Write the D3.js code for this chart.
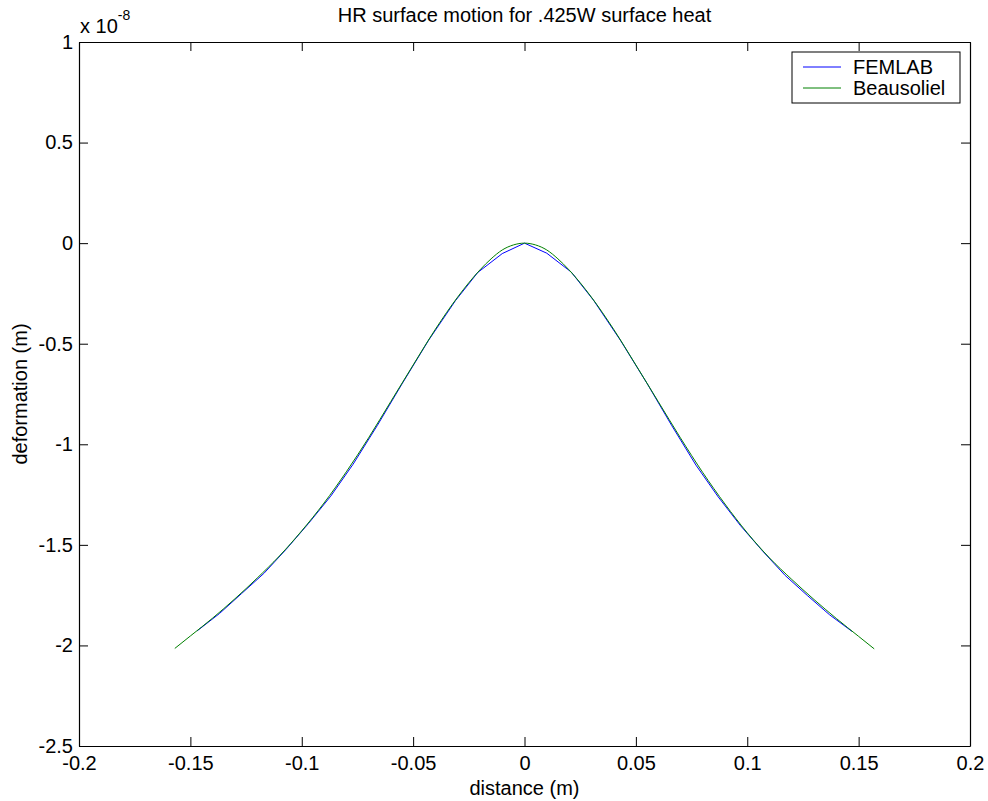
<!DOCTYPE html>
<html>
<head>
<meta charset="utf-8">
<script src="https://cdn.jsdelivr.net/npm/d3@7"></script>
<style>
  body { margin: 0; background: #fff; }
  svg { display: block; font-family: Arial, "Liberation Sans", sans-serif; }
</style>
</head>
<body>
<div id="chart"></div>
<script>
// values (deformation in units of 1e-8 m)
const beauX = [-0.157, -0.15, -0.14, -0.13, -0.12, -0.11, -0.10, -0.09, -0.08, -0.07, -0.06, -0.05, -0.04, -0.03, -0.02, -0.015, -0.01, -0.005, 0,
    0.005, 0.01, 0.015, 0.02, 0.03, 0.04, 0.05, 0.06, 0.07, 0.08, 0.09, 0.10, 0.11, 0.12, 0.13, 0.14, 0.15, 0.157];
const beauY = [-2.015, -1.953, -1.864, -1.768, -1.665, -1.555, -1.43, -1.292, -1.137, -0.968, -0.787, -0.606, -0.428, -0.268, -0.133, -0.078, -0.034, -0.009, 0,
    -0.009, -0.034, -0.078, -0.133, -0.268, -0.428, -0.606, -0.787, -0.968, -1.14, -1.297, -1.44, -1.565, -1.672, -1.772, -1.866, -1.955, -2.017];

const femX = [-0.147, -0.137, -0.127, -0.117, -0.107, -0.097, -0.087, -0.077, -0.066, -0.055, -0.043, -0.031, -0.021, -0.01, 0,
    0.01, 0.021, 0.031, 0.043, 0.055, 0.066, 0.077, 0.087, 0.097, 0.107, 0.117, 0.127, 0.137, 0.147];
const femY = [-1.928, -1.842, -1.742, -1.642, -1.522, -1.394, -1.258, -1.100, -0.905, -0.700, -0.482, -0.286, -0.146, -0.052, 0,
    -0.05, -0.144, -0.284, -0.482, -0.697, -0.905, -1.104, -1.262, -1.405, -1.532, -1.652, -1.752, -1.848, -1.93];

const xTicks = [-0.2, -0.15, -0.1, -0.05, 0, 0.05, 0.1, 0.15, 0.2];
const yTicks = [1, 0.5, 0, -0.5, -1, -1.5, -2, -2.5];
const seriesNames = ["FEMLAB", "Beausoliel"];
const seriesColors = ["#0000ff", "#008000"];

const width = 988, height = 801;
const margin = {top: 42, right: 18, bottom: 55, left: 79};
const innerW = width - margin.left - margin.right,
    innerH = height - margin.top - margin.bottom;
const fontSize = 20;

const svg = d3.select("#chart")
    .append("svg")
    .attr("width", width)
    .attr("height", height);

const g = svg.append("g")
    .attr("transform", "translate(" + margin.left + "," + margin.top + ")");

const x = d3.scaleLinear().domain([-0.2, 0.2]).range([0, innerW]);
const y = d3.scaleLinear().domain([-2.5, 1]).range([innerH, 0]);

const fmt = d => String(+d.toFixed(2));
const tickLen = 9;

// axes, ticks pointing inward like MATLAB
const xAxis = g.append("g")
    .attr("transform", "translate(0," + innerH + ")")
    .call(d3.axisBottom(x).tickValues(xTicks).tickFormat(fmt).tickSizeInner(-tickLen).tickSizeOuter(0).tickPadding(10));
const xTop = g.append("g")
    .call(d3.axisTop(x).tickValues(xTicks).tickFormat("").tickSizeInner(-tickLen).tickSizeOuter(0));
const yAxis = g.append("g")
    .call(d3.axisLeft(y).tickValues(yTicks).tickFormat(fmt).tickSizeInner(-tickLen).tickSizeOuter(0).tickPadding(6));
const yRight = g.append("g")
    .attr("transform", "translate(" + innerW + ",0)")
    .call(d3.axisRight(y).tickValues(yTicks).tickFormat("").tickSizeInner(-tickLen).tickSizeOuter(0));

[xAxis, xTop, yAxis, yRight].forEach(function(a) {
    a.selectAll("path.domain").attr("stroke", "#000").attr("stroke-width", 1.2);
    a.selectAll(".tick line").attr("stroke", "#000");
    a.selectAll("text").attr("font-size", fontSize).attr("fill", "#000")
        .attr("font-family", "Arial, 'Liberation Sans', sans-serif");
});

// lines
const line = d3.line()
    .x(function(d) { return x(d[0]); })
    .y(function(d) { return y(d[1]); });

g.append("path")
    .datum(femX.map(function(v, i) { return [v, femY[i]]; }))
    .attr("fill", "none")
    .attr("stroke", seriesColors[0])
    .attr("stroke-width", 1)
    .attr("d", line);

g.append("path")
    .datum(beauX.map(function(v, i) { return [v, beauY[i]]; }))
    .attr("fill", "none")
    .attr("stroke", seriesColors[1])
    .attr("stroke-width", 1)
    .attr("d", line.curve(d3.curveMonotoneX));

// legend
const legend = g.append("g").attr("transform", "translate(" + (792 - margin.left) + "," + (52 - margin.top) + ")");
legend.append("rect")
    .attr("width", 168).attr("height", 51)
    .attr("fill", "#fff").attr("stroke", "#000").attr("stroke-width", 1);
seriesNames.forEach(function(name, i) {
    const ly = 15 + i * 21;
    legend.append("line")
        .attr("x1", 11).attr("x2", 49).attr("y1", ly).attr("y2", ly)
        .attr("stroke", seriesColors[i]).attr("stroke-width", 1);
    legend.append("text")
        .attr("x", 61).attr("y", ly + 7)
        .attr("font-size", fontSize)
        .text(name);
});

// exponent label
const expo = svg.append("text").attr("x", 80).attr("y", 33).attr("font-size", fontSize);
expo.append("tspan").text("x 10");
expo.append("tspan").attr("dy", -13).attr("font-size", 14).text("-8");

// title and axis labels
svg.append("text")
    .attr("x", margin.left + innerW / 2).attr("y", 22)
    .attr("text-anchor", "middle").attr("font-size", fontSize)
    .text("HR surface motion for .425W surface heat");

svg.append("text")
    .attr("x", margin.left + innerW / 2).attr("y", 795)
    .attr("text-anchor", "middle").attr("font-size", fontSize)
    .text("distance (m)");

svg.append("text")
    .attr("transform", "translate(27," + (margin.top + innerH / 2) + ")rotate(-90)")
    .attr("text-anchor", "middle").attr("font-size", fontSize)
    .text("deformation (m)");
</script>
</body>
</html>
